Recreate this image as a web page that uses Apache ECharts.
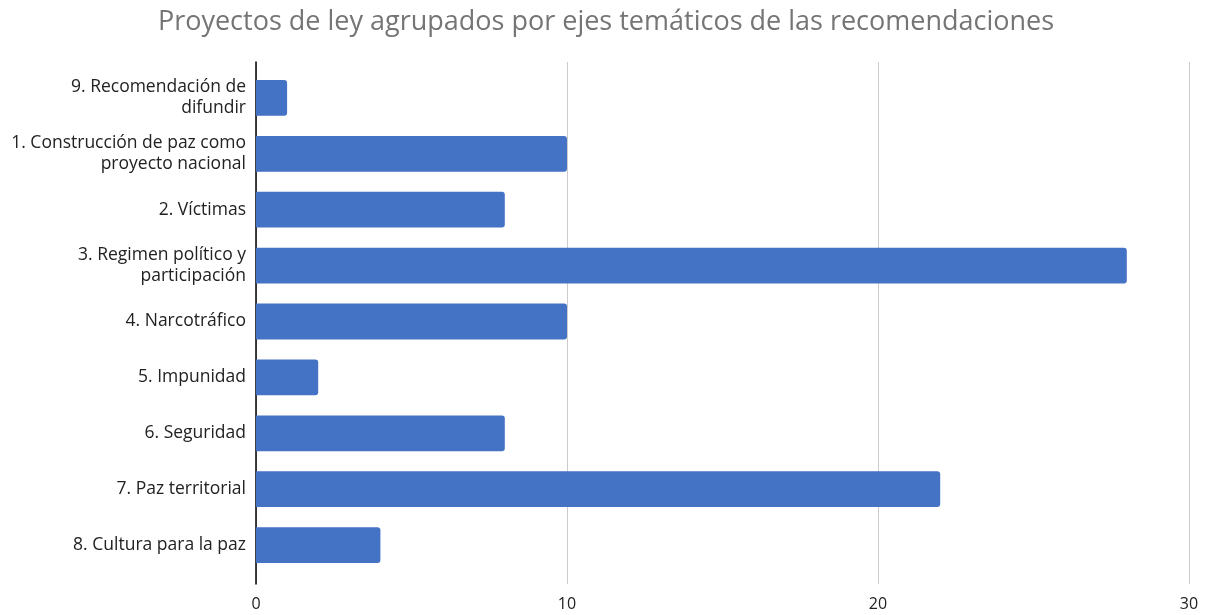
<!DOCTYPE html>
<html>
<head>
<meta charset="utf-8">
<script src="https://cdn.jsdelivr.net/npm/echarts@6/dist/echarts.min.js"></script>
<style>
  html, body { margin: 0; padding: 0; background: #ffffff; }
  #chart { width: 1212px; height: 615px; }
</style>
</head>
<body>
<div id="chart"></div>
<script>
// Ejes temáticos (de arriba hacia abajo)
const categories = [
  '9. Recomendación de\ndifundir',
  '1. Construcción de paz como\nproyecto nacional',
  '2. Víctimas',
  '3. Regimen político y\nparticipación',
  '4. Narcotráfico',
  '5. Impunidad',
  '6. Seguridad',
  '7. Paz territorial',
  '8. Cultura para la paz'
];
// Número de proyectos de ley por eje
const proyectos = [1, 10, 8, 28, 10, 2, 8, 22, 4];
const xTicks = { min: 0, max: 30, interval: 10 };

const font = 'Open Sans, sans-serif';
const chart = echarts.init(document.getElementById('chart'), null, { renderer: 'canvas' });
chart.setOption({
  animation: false,
  backgroundColor: '#ffffff',
  title: {
    text: 'Proyectos de ley agrupados por ejes temáticos de las recomendaciones',
    left: 'center',
    top: 4,
    textStyle: { fontFamily: font, fontSize: 27, fontWeight: 'normal', color: '#757575' }
  },
  // grid 0: the bars; grid 1: the frame (gridlines, zero line, tick labels), a little taller
  grid: [
    { left: 256, right: 23, top: 70, bottom: 42 },
    { left: 256, right: 23, top: 62, bottom: 31 }
  ],
  xAxis: [
    {
      gridIndex: 0, type: 'value',
      min: xTicks.min, max: xTicks.max, interval: xTicks.interval,
      axisLine: { show: false }, axisTick: { show: false },
      splitLine: { show: false }, axisLabel: { show: false }
    },
    {
      gridIndex: 1, type: 'value',
      min: xTicks.min, max: xTicks.max, interval: xTicks.interval,
      axisLine: { show: false }, axisTick: { show: false },
      splitLine: { show: true, lineStyle: { color: '#cccccc', width: 1 } },
      axisLabel: { margin: 12, fontFamily: font, fontSize: 16, color: '#222222' }
    }
  ],
  yAxis: [
    {
      gridIndex: 0, type: 'category', inverse: true, data: categories,
      axisLine: { show: false }, axisTick: { show: false },
      axisLabel: {
        margin: 10, align: 'right', lineHeight: 21,
        fontFamily: font, fontSize: 17.5, color: '#222222'
      }
    },
    {
      gridIndex: 1, type: 'value', min: 0, max: 1,
      axisLine: { show: true, onZero: false, lineStyle: { color: '#000000', width: 1.5 } },
      axisTick: { show: false }, axisLabel: { show: false }, splitLine: { show: false }
    }
  ],
  series: [{
    type: 'bar',
    xAxisIndex: 0, yAxisIndex: 0,
    data: proyectos,
    barCategoryGap: '36%',
    z: 3,
    itemStyle: { color: '#4472C4', borderRadius: [0, 3, 3, 0] }
  }]
});
</script>
</body>
</html>
